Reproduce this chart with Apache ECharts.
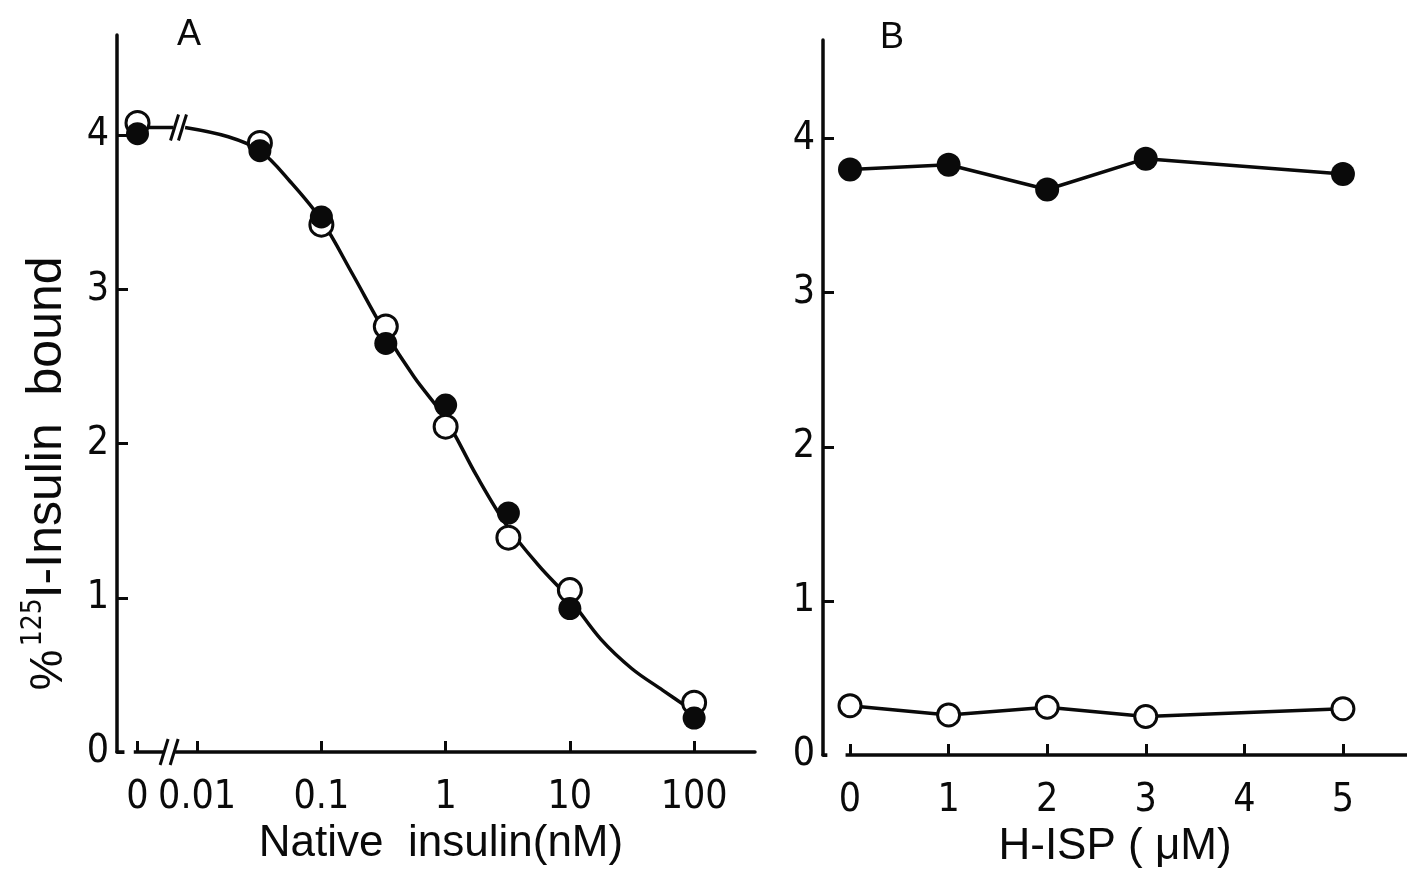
<!DOCTYPE html>
<html><head><meta charset="utf-8">
<script src="https://cdn.jsdelivr.net/npm/echarts@6/dist/echarts.min.js"></script>
<style>html,body{margin:0;padding:0;background:#fff}#c{width:1407px;height:882px}</style>
</head><body><div id="c"></div><script>
// ---------- Panel A : Native insulin (nM) ----------
const concA    = [0, 0.032, 0.1, 0.33, 1, 3.2, 10, 100];
const openA    = [4.08, 3.95, 3.42, 2.76, 2.11, 1.39, 1.05, 0.32];
const filledA  = [4.01, 3.90, 3.47, 2.65, 2.25, 1.55, 0.93, 0.22];
// fitted curve
const fitConc  = [0.008, 0.0178, 0.032, 0.056, 0.1, 0.178, 0.316, 0.56, 1, 1.78, 3.16, 5.6, 10, 17.8, 31.6, 56, 100];
const fitVal   = [4.05, 3.99, 3.90, 3.70, 3.45, 3.10, 2.74, 2.43, 2.16, 1.79, 1.46, 1.21, 0.99, 0.73, 0.54, 0.40, 0.26];
const zeroValA = 4.05;               // level of the short segment after the "0" point
const tickConcA  = [0, 0.01, 0.1, 1, 10, 100];
const tickLabelA = ['0', '0.01', '0.1', '1', '10', '100'];
const tickY      = [0, 1, 2, 3, 4];
// ---------- Panel B : H-ISP (uM) ----------
const doseB   = [0, 1, 2, 3, 5];
const filledB = [3.80, 3.83, 3.67, 3.87, 3.77];
const openB   = [0.32, 0.26, 0.31, 0.25, 0.30];
const tickB   = [0, 1, 2, 3, 4, 5];

// log10 position of the "0" concentration (placed before the axis break)
const ZERO_POS = -2.48;
function pos(c) { return c === 0 ? ZERO_POS : Math.log10(c); }

const FONT = "'Liberation Sans Narrow','DejaVu Sans Condensed','Liberation Sans',sans-serif";
const FONT_T = "'Liberation Sans','DejaVu Sans',sans-serif";
const INK = '#0a0a0a';
const LW = 3.5;

// axis-break decorations [from, to, level, withSlashes] in axis units
const breaksA = [[-2.585, -2.51, 0, 0], [-2.274, -2.177, 0, 1], [-2.19, -2.11, zeroValA, 1]];
const breaksB = [[-0.23, -0.045, 0, 0]];

function renderBreak(params, api) {
  const a = api.coord([api.value(0), api.value(2)]);
  const b = api.coord([api.value(1), api.value(2)]);
  const children = [{
    type: 'rect', shape: { x: a[0], y: a[1] - 5, width: b[0] - a[0], height: 10 },
    style: { fill: '#fff' }
  }];
  if (api.value(3)) {
    [a[0] + 1, b[0] - 1].forEach(function (x) {
      children.push({ type: 'line', shape: { x1: x - 4, y1: a[1] + 13, x2: x + 4, y2: a[1] - 13 },
        style: { stroke: INK, lineWidth: 3 } });
    });
  }
  return { type: 'group', children: children };
}

const axisLineStyle = { onZero: false, lineStyle: { color: INK, width: LW } };
const tickStyle = { inside: true, length: 11, lineStyle: { color: INK, width: 3 } };
const labelStyle = { color: INK, fontSize: 39, fontFamily: FONT };

const chart = echarts.init(document.getElementById('c'), null, { renderer: 'canvas' });
chart.setOption({
  animation: false,
  backgroundColor: '#fff',
  title: [
    { text: 'A', left: 172, top: 12, textStyle: { fontSize: 36, fontWeight: 'normal', color: INK, fontFamily: FONT_T } },
    { text: 'B', left: 875, top: 15, textStyle: { fontSize: 36, fontWeight: 'normal', color: INK, fontFamily: FONT_T } }
  ],
  grid: [
    { left: 117, top: 35, width: 638, height: 717 },
    { left: 823, top: 40, width: 584, height: 715 }
  ],
  xAxis: [
    { gridIndex: 0, type: 'value', min: -2.645, max: 2.49, splitLine: { show: false },
      axisLine: axisLineStyle,
      axisTick: Object.assign({ customValues: tickConcA.map(pos) }, tickStyle),
      axisLabel: Object.assign({ customValues: tickConcA.map(pos), margin: 26,
        formatter: function (v) {
          let best = 0;
          tickConcA.forEach(function (c, i) { if (Math.abs(pos(c) - v) < Math.abs(pos(tickConcA[best]) - v)) best = i; });
          return tickLabelA[best];
        } }, labelStyle),
      name: 'Native  insulin(nM)', nameLocation: 'middle', nameGap: 68,
      nameTextStyle: { fontSize: 44, color: INK, fontFamily: FONT_T, padding: [0, 0, 0, 10] } },
    { gridIndex: 1, type: 'value', min: -0.274, max: 5.65, splitLine: { show: false },
      axisLine: axisLineStyle,
      axisTick: Object.assign({ customValues: tickB }, tickStyle),
      axisLabel: Object.assign({ customValues: tickB, margin: 26 }, labelStyle),
      name: 'H-ISP ( μM)', nameLocation: 'middle', nameGap: 68,
      nameTextStyle: { fontSize: 44, color: INK, fontFamily: FONT_T } }
  ],
  yAxis: [
    { gridIndex: 0, type: 'value', min: 0, max: 4.65, splitLine: { show: false },
      axisLine: axisLineStyle,
      axisTick: Object.assign({ customValues: tickY }, tickStyle),
      axisLabel: Object.assign({ customValues: tickY, margin: 8 }, labelStyle),
      name: '{p|%} {s|125}{m|I-Insulin  bound}', nameLocation: 'middle', nameRotate: 90, nameGap: 45,
      nameTextStyle: { color: INK, padding: [0, 160, 0, 0],
        rich: {
          p: { fontSize: 46, fontFamily: FONT_T, color: INK, verticalAlign: 'bottom', lineHeight: 52 },
          s: { fontSize: 28, fontFamily: FONT, color: INK, verticalAlign: 'top', lineHeight: 52 },
          m: { fontSize: 50, fontFamily: FONT_T, color: INK, verticalAlign: 'bottom', lineHeight: 52 }
        } } },
    { gridIndex: 1, type: 'value', min: 0, max: 4.64, splitLine: { show: false },
      axisLine: axisLineStyle,
      axisTick: Object.assign({ customValues: tickY }, tickStyle),
      axisLabel: Object.assign({ customValues: tickY, margin: 8 }, labelStyle) }
  ],
  series: [
    { name: 'fit', type: 'line', xAxisIndex: 0, yAxisIndex: 0, smooth: 0.35, symbol: 'none',
      lineStyle: { color: INK, width: LW }, z: 2,
      data: fitConc.map(function (c, i) { return [pos(c), fitVal[i]]; }) },
    { name: 'zero stub', type: 'line', xAxisIndex: 0, yAxisIndex: 0, symbol: 'none',
      lineStyle: { color: INK, width: LW }, z: 2,
      data: [[pos(0), zeroValA], [breaksA[2][0], zeroValA]] },
    { name: 'breaksA', type: 'custom', xAxisIndex: 0, yAxisIndex: 0, clip: false, z: 5,
      renderItem: renderBreak, data: breaksA },
    { name: 'open A', type: 'scatter', xAxisIndex: 0, yAxisIndex: 0, symbol: 'circle', symbolSize: 23, z: 6,
      itemStyle: { color: '#fff', borderColor: INK, borderWidth: 3, opacity: 1 },
      data: concA.map(function (c, i) { return [pos(c), openA[i]]; }) },
    { name: 'filled A', type: 'scatter', xAxisIndex: 0, yAxisIndex: 0, symbol: 'circle', symbolSize: 23, z: 7,
      itemStyle: { color: INK, opacity: 1 },
      data: concA.map(function (c, i) { return [pos(c), filledA[i]]; }) },
    { name: 'filled B', type: 'line', xAxisIndex: 1, yAxisIndex: 1, symbol: 'circle', symbolSize: 24, z: 6,
      itemStyle: { color: INK }, lineStyle: { color: INK, width: LW },
      data: doseB.map(function (d, i) { return [d, filledB[i]]; }) },
    { name: 'open B', type: 'line', xAxisIndex: 1, yAxisIndex: 1, symbol: 'circle', symbolSize: 22, z: 6,
      itemStyle: { color: '#fff', borderColor: INK, borderWidth: 3 }, lineStyle: { color: INK, width: LW },
      data: doseB.map(function (d, i) { return [d, openB[i]]; }) },
    { name: 'breaksB', type: 'custom', xAxisIndex: 1, yAxisIndex: 1, clip: false, z: 5,
      renderItem: renderBreak, data: breaksB }
  ]
});
</script></body></html>
